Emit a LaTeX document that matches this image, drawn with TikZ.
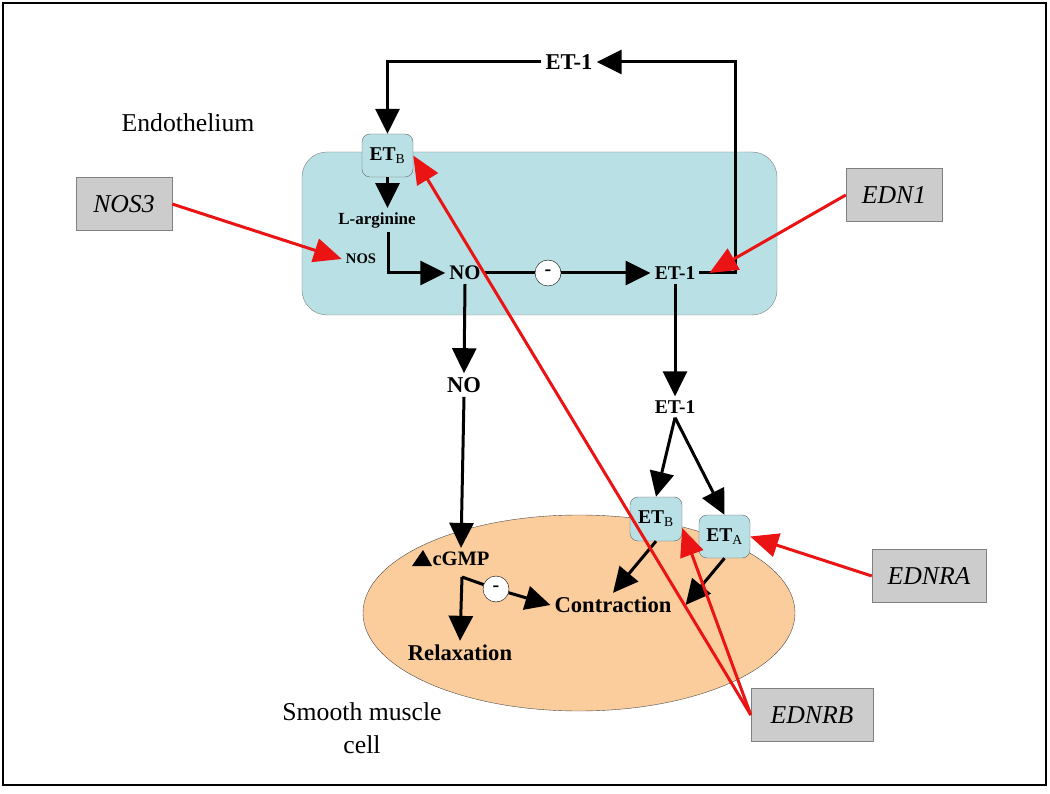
\documentclass[tikz,border=0pt]{standalone}
\usepackage{fontspec}
\setmainfont{Liberation Serif}
\usetikzlibrary{arrows.meta}
\definecolor{endocol}{RGB}{185,224,228}
\definecolor{musclecol}{RGB}{251,204,156}
\definecolor{genecol}{RGB}{204,204,204}
\definecolor{redline}{RGB}{235,20,20}

\begin{document}
\begin{tikzpicture}[x=1pt,y=-1pt,
  blk/.style={line width=3pt,-{Triangle[length=25pt,width=24pt]}},
  redarr/.style={draw=redline,line width=3pt,-{Triangle[length=28pt,width=24pt]}},
  lbl/.style={inner sep=4pt,font=\fontsize{25.7}{33}\selectfont},
  gene/.style={draw=gray,fill=genecol,minimum height=53pt,font=\fontsize{25.7}{30}\selectfont\itshape},
  rcpt/.style={draw=gray!80!black,fill=endocol,rounded corners=8pt,minimum width=51pt,minimum height=43pt,inner sep=0pt,font=\fontsize{19.5}{22}\selectfont},
  minus/.style={circle,draw,fill=white,minimum size=26pt,inner sep=0pt,font=\bfseries\fontsize{20}{20}\selectfont},
  txt/.style={inner sep=4pt,font=\bfseries\fontsize{#1}{#1}\selectfont},
]
\useasboundingbox (0,0) rectangle (1050,794);
\draw[line width=2pt] (3,3) rectangle (1046,785);
\draw[gray,fill=endocol,rounded corners=25pt] (302,152) rectangle (777,315);
\draw[black!70,fill=musclecol] (579,613) ellipse [x radius=216pt,y radius=98pt];
\node[lbl] (endo) at (188,123) {Endothelium};
\node[lbl,align=center] (smc) at (362,728) {Smooth muscle\\cell};
\node[gene,minimum width=96pt] (nos3) at (124,204) {NOS3};
\node[gene,minimum width=96pt] (edn1) at (894,195) {EDN1};
\node[gene,minimum width=114pt] (ednra) at (929,576) {EDNRA};
\node[gene,minimum width=122pt] (ednrb) at (812,715) {EDNRB};
\node[rcpt] (etbT) at (387.5,155.5) {\textbf{ET}\textsubscript{B}};
\node[rcpt,minimum width=52pt,minimum height=44pt] (etbL) at (656,519) {\textbf{ET}\textsubscript{B}};
\node[rcpt] (eta) at (724.5,536.5) {\textbf{ET}\textsubscript{A}};
\node[txt=22.6] (etTop) at (569,62) {ET-1};
\node[txt=17] (larg) at (377,220) {L-arginine};
\node[txt=14.6] (nos) at (361,259) {NOS};
\node[txt=20.7] (noA) at (465,273) {NO};
\node[minus] (m1) at (548,273) {-};
\node[txt=19.5] (etA) at (675,273) {ET-1};
\node[txt=22.6] (noB) at (464,385) {NO};
\node[txt=19.5] (etB) at (675,407) {ET-1};
\node[txt=20.5] (cgmp) at (461,559) {cGMP};
\coordinate (fork) at (462,577);
\node[minus] (m2) at (496,589) {-};
\node[txt=22.6] (relax) at (460,653) {Relaxation};
\node[txt=22.6] (contr) at (613,605) {Contraction};
\coordinate (loop) at (735,62);
\fill (412,566) -- (432,566) -- (423,550) -- cycle;
\draw[blk] (etTop.west) -| (etbT.north);
\draw[blk] (etbT.south) -- (etbT.south |- larg.north);
\draw[blk] ([xshift=11pt]larg.south) |- (noA.west);
\draw[line width=3pt] (noA.east) -- (m1.west);
\draw[blk] (m1.east) -- (etA.west);
\draw[blk] (etA.east) -| (loop) -- (etTop.east);
\draw[blk] (noA.south) -- (noB.north);
\draw[blk] (etA.south) -- (etB.north);
\draw[blk] (noB.south) -- (cgmp.north);
\draw[blk] (etB.south) -- (etbL.north);
\draw[blk] (etB.south) -- (eta.north);
\draw[blk] (fork) -- (relax.north);
\draw[line width=3pt] (fork) -- (m2);
\draw[blk] (m2) -- (contr.west);
\draw[blk] (etbL.south) -- (contr.north);
\draw[blk] (eta.south) -- ([xshift=10pt]contr.east);
\draw[redarr] (nos3.east) -- (nos.west);
\draw[redarr] (edn1.west) -- ([xshift=10pt]etA.east);
\draw[redarr] (ednrb.west) -- (etbT.east);
\draw[redarr] (ednrb.west) -- ([yshift=-9pt]etbL.east);
\draw[redarr] (ednra.west) -- (eta.east);
\end{tikzpicture}
\end{document}
